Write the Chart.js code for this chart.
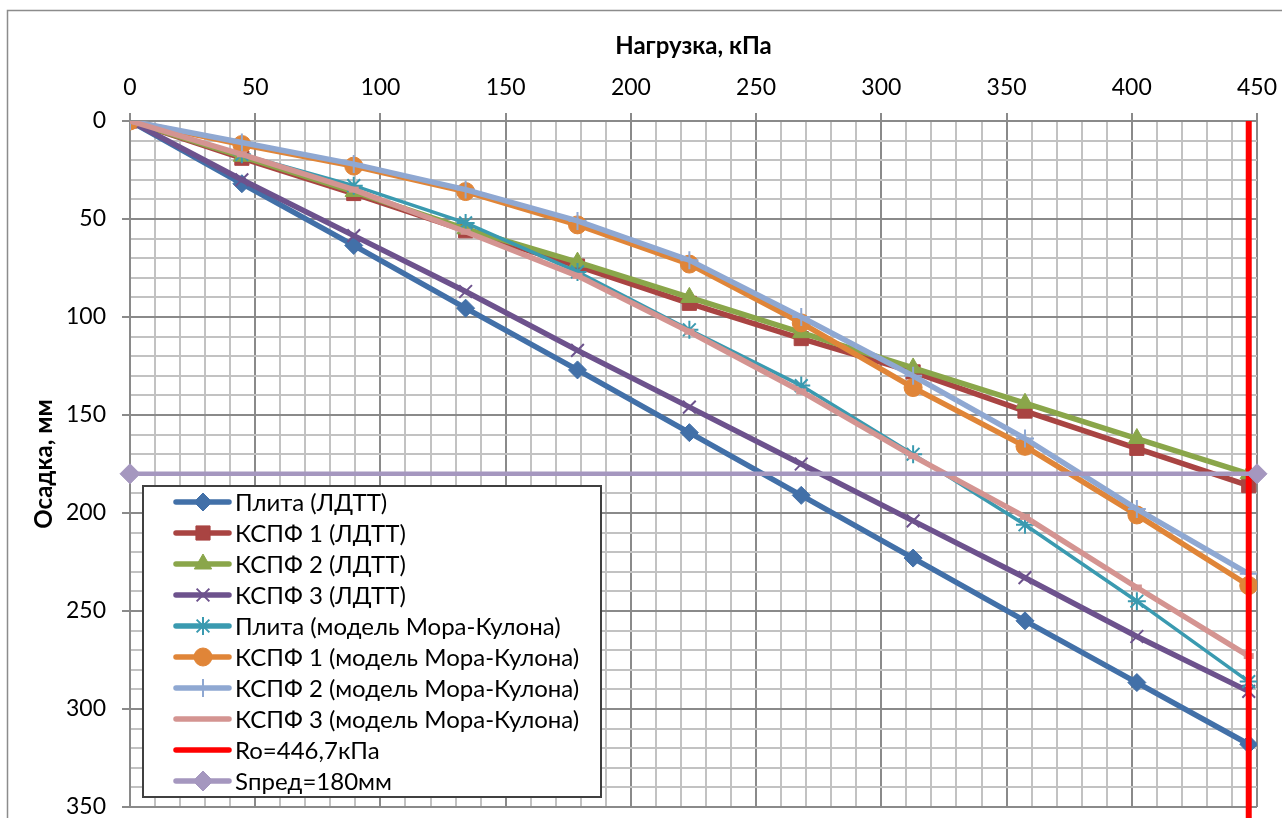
<!DOCTYPE html>
<html>
<head>
<meta charset="utf-8">
<script src="https://cdn.jsdelivr.net/npm/chart.js@4.4.0/dist/chart.umd.min.js"></script>
<style>
    html, body { margin: 0; padding: 0; background: #fff; }
    #wrap { width: 1282px; height: 818px; }
</style>
</head>
<body>
<div id="wrap"><canvas id="chart" width="1282" height="818"></canvas></div>
<script>
// load steps, kPa
const loads = [0, 44.67, 89.34, 134.01, 178.68, 223.35, 268.02, 312.69, 357.36, 402.03, 446.7];

// settlements, mm
const plitaLdtt = [0, 32, 63.5, 95.5, 127, 159, 191, 223, 255, 286.5, 318];
const kspf1Ldtt = [0, 19, 37, 56, 74, 93, 111, 128, 148, 167, 186];
const kspf2Ldtt = [0, 18, 36, 55, 72, 90, 108, 126, 144, 162, 180];
const kspf3Ldtt = [0, 30, 58.5, 87, 117, 146, 175, 204, 233, 263, 291];
const plitaMk = [0, 17, 33, 52, 77, 106.5, 135, 170, 206, 245, 286];
const kspf1Mk = [0, 12, 23, 36, 53, 73, 103, 136, 166, 201, 237];
const kspf2Mk = [0, 11, 22, 35, 51, 71, 100, 130, 162, 198, 231];
const kspf3Mk = [0, 17, 35, 56.5, 79, 107.5, 138, 171, 202, 238, 273];

// limits
const roX = [446.7, 446.7];
const roY = [0, 360];
const limX = [0, 450];
const limY = [180, 180];

const xTicks = [0, 50, 100, 150, 200, 250, 300, 350, 400, 450];
const yTicks = [0, 50, 100, 150, 200, 250, 300, 350];

const FONT = "Lato, 'Open Sans', sans-serif";

function pts(xs, ys) {
    return xs.map((x, i) => ({ x: x, y: ys[i] }));
}

function series(label, ys, color, style, radius, width, extra) {
    return Object.assign({
        label: label,
        data: pts(loads, ys),
        borderColor: color,
        backgroundColor: color,
        borderWidth: width,
        pointStyle: style,
        pointRadius: radius,
        pointBorderWidth: 1,
        pointBackgroundColor: color,
        pointBorderColor: color,
        tension: 0
    }, extra || {});
}

const datasets = [
    series('Плита (ЛДТТ)', plitaLdtt, '#4270a8', 'rectRot', 9, 5.5),
    series('КСПФ 1 (ЛДТТ)', kspf1Ldtt, '#a94442', 'rect', 10, 5.5),
    series('КСПФ 2 (ЛДТТ)', kspf2Ldtt, '#8aa64a', 'triangle', 10, 5.5),
    series('КСПФ 3 (ЛДТТ)', kspf3Ldtt, '#6d528d', 'crossRot', 9, 5.5, { pointBorderWidth: 2 }),
    series('Плита (модель Мора-Кулона)', plitaMk, '#3a9ab0', 'star', 9, 3.5, { pointBorderWidth: 2 }),
    series('КСПФ 1 (модель Мора-Кулона)', kspf1Mk, '#e08538', 'circle', 9, 5.5),
    series('КСПФ 2 (модель Мора-Кулона)', kspf2Mk, '#8fa8d2', 'cross', 9, 5.5, { pointBorderWidth: 2 }),
    series('КСПФ 3 (модель Мора-Кулона)', kspf3Mk, '#d49491', 'line', 5, 5.5, { pointBorderWidth: 6 }),
    {
        label: 'Ro=446,7кПа',
        data: pts(roX, roY),
        borderColor: '#ff0000',
        backgroundColor: '#ff0000',
        borderWidth: 6,
        pointRadius: 0,
        pointStyle: false,
        clip: { left: 10, top: 0, right: 10, bottom: 20 }
    },
    {
        label: 'Sпред=180мм',
        data: pts(limX, limY),
        borderColor: '#a597bf',
        backgroundColor: '#a597bf',
        borderWidth: 4.5,
        pointStyle: 'rectRot',
        pointRadius: 10,
        pointBorderWidth: 1,
        pointBackgroundColor: '#a597bf',
        pointBorderColor: '#a597bf',
        clip: 12
    }
];
// later series on top, like the original
datasets.forEach((d, i) => { d.order = datasets.length - i; });

const isMajor = (v, ticks) => ticks.indexOf(Math.round(v)) !== -1;

const frame = {
    id: 'frame',
    beforeDraw(chart) {
        const ctx = chart.ctx;
        ctx.save();
        ctx.fillStyle = '#fff';
        ctx.fillRect(0, 0, chart.width, chart.height);
        ctx.strokeStyle = '#8c8c8c';
        ctx.lineWidth = 1.5;
        ctx.strokeRect(7.5, 10.5, 1400, 900);
        ctx.restore();
    }
};

const boxLegend = {
    id: 'boxLegend',
    afterDraw(chart) {
        const ctx = chart.ctx;
        const left = 143, top = 486, w = 458, h = 311;
        ctx.save();
        ctx.fillStyle = '#fff';
        ctx.fillRect(left, top, w, h);
        ctx.strokeStyle = '#404040';
        ctx.lineWidth = 2;
        ctx.strokeRect(left, top, w, h);
        ctx.font = '24px ' + FONT;
        ctx.textBaseline = 'middle';
        datasets.forEach((d, i) => {
            const y = 502 + i * 31;
            ctx.strokeStyle = d.borderColor;
            ctx.lineWidth = 5.5;
            ctx.lineCap = 'round';
            ctx.beginPath();
            ctx.moveTo(176, y);
            ctx.lineTo(229, y);
            ctx.stroke();
            ctx.lineCap = 'butt';
            if (d.pointStyle && d.pointStyle !== 'line' && Chart.helpers && Chart.helpers.drawPoint) {
                ctx.fillStyle = d.pointBackgroundColor;
                ctx.strokeStyle = d.pointBorderColor;
                ctx.lineWidth = d.pointBorderWidth;
                Chart.helpers.drawPoint(ctx, {
                    pointStyle: d.pointStyle,
                    radius: d.pointRadius,
                    borderWidth: d.pointBorderWidth,
                    rotation: 0
                }, 203, y);
            }
            ctx.fillStyle = '#000';
            ctx.fillText(d.label, 235, y + 1);
        });
        ctx.restore();
    }
};

new Chart(document.getElementById('chart'), {
    type: 'line',
    data: { datasets: datasets },
    plugins: [frame, boxLegend],
    options: {
        responsive: false,
        animation: false,
        layout: { padding: { left: 8, top: 10, right: 25, bottom: 11 } },
        plugins: {
            legend: { display: false },
            tooltip: { enabled: false }
        },
        scales: {
            x: {
                type: 'linear',
                position: 'top',
                min: 0,
                max: 450,
                afterFit: (scale) => {
                    scale.height = 111;
                    scale.paddingLeft = 0;
                    scale.paddingRight = 0;
                },
                ticks: {
                    stepSize: 10,
                    autoSkip: false,
                    maxRotation: 0,
                    padding: 12,
                    color: '#000',
                    font: { family: FONT, size: 23 },
                    callback: (v) => isMajor(v, xTicks) ? String(Math.round(v)) : ''
                },
                grid: {
                    lineWidth: 2,
                    tickLength: 8,
                    color: (c) => isMajor(c.tick.value, xTicks) ? '#8a8a8a' : '#c2c2c2',
                    tickColor: (c) => isMajor(c.tick.value, xTicks) ? '#8a8a8a' : 'rgba(0,0,0,0)'
                },
                border: { color: '#8a8a8a', width: 2 },
                title: {
                    display: true,
                    text: 'Нагрузка, кПа',
                    color: '#000',
                    font: { family: FONT, size: 24, weight: 'bold' },
                    padding: { top: 22, bottom: 0 }
                }
            },
            y: {
                type: 'linear',
                reverse: true,
                min: 0,
                max: 350,
                afterFit: (scale) => {
                    scale.width = 122;
                    scale.paddingTop = 0;
                    scale.paddingBottom = 0;
                },
                ticks: {
                    stepSize: 10,
                    autoSkip: false,
                    padding: 16,
                    color: '#000',
                    font: { family: FONT, size: 23 },
                    callback: (v) => isMajor(v, yTicks) ? String(Math.round(v)) : ''
                },
                grid: {
                    lineWidth: 2,
                    tickLength: 8,
                    color: (c) => isMajor(c.tick.value, yTicks) ? '#8a8a8a' : '#c2c2c2',
                    tickColor: (c) => isMajor(c.tick.value, yTicks) ? '#8a8a8a' : 'rgba(0,0,0,0)'
                },
                border: { color: '#8a8a8a', width: 2 },
                title: {
                    display: true,
                    text: 'Осадка, мм',
                    color: '#000',
                    font: { family: FONT, size: 24, weight: 'bold' },
                    padding: { top: 22, bottom: 0 }
                }
            }
        }
    }
});
</script>
</body>
</html>
